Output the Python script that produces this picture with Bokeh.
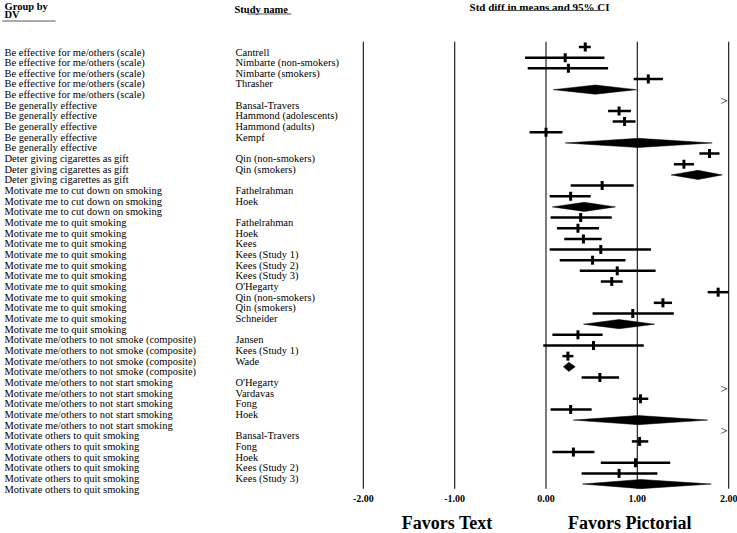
from bokeh.plotting import figure
from bokeh.models import Range1d
from bokeh.core.properties import value
from bokeh.embed import file_html
from bokeh.resources import INLINE

# ---------------- data ----------------
group_labels = (["Be effective for me/others (scale)"] * 5
                + ["Be generally effective"] * 5
                + ["Deter giving cigarettes as gift"] * 3
                + ["Motivate me to cut down on smoking"] * 3
                + ["Motivate me to quit smoking"] * 11
                + ["Motivate me/others to not smoke (composite)"] * 4
                + ["Motivate me/others to not start smoking"] * 5
                + ["Motivate others to quit smoking"] * 6)

study_names = ["Cantrell", "Nimbarte (non-smokers)", "Nimbarte (smokers)", "Thrasher", "",
               "Bansal-Travers", "Hammond (adolescents)", "Hammond (adults)", "Kempf", "",
               "Qin (non-smokers)", "Qin (smokers)", "",
               "Fathelrahman", "Hoek", "",
               "Fathelrahman", "Hoek", "Kees", "Kees (Study 1)", "Kees (Study 2)", "Kees (Study 3)",
               "O'Hegarty", "Qin (non-smokers)", "Qin (smokers)", "Schneider", "",
               "Jansen", "Kees (Study 1)", "Wade", "",
               "O'Hegarty", "Vardavas", "Fong", "Hoek", "",
               "Bansal-Travers", "Fong", "Hoek", "Kees (Study 2)", "Kees (Study 3)", ""]

est = [0.43, 0.21, 0.245, 1.12, 0.54,
       2.6, 0.80, 0.86, 0.00, 1.01,
       1.79, 1.51, 1.665,
       0.615, 0.27, 0.42,
       0.38, 0.35, 0.41, 0.60, 0.51, 0.78, 0.72, 1.885, 1.28, 0.95, 0.80,
       0.35, 0.52, 0.24, 0.25,
       0.59, 2.6, 1.035, 0.27, 1.01,
       2.6, 1.025, 0.30, 0.98, 0.80, 1.04]
lo = [0.36, -0.23, -0.20, 0.96, 0.08,
      2.3, 0.68, 0.73, -0.18, 0.21,
      1.68, 1.40, 1.37,
      0.27, 0.04, 0.07,
      0.05, 0.12, 0.20, 0.04, 0.15, 0.37, 0.60, 1.77, 1.18, 0.51, 0.41,
      0.07, -0.03, 0.18, 0.19,
      0.39, 2.3, 0.95, 0.05, 0.30,
      2.3, 0.94, 0.07, 0.60, 0.39, 0.40]
hi = [0.49, 0.64, 0.68, 1.28, 0.99,
      2.9, 0.93, 0.98, 0.18, 1.82,
      1.90, 1.62, 1.93,
      0.96, 0.49, 0.76,
      0.72, 0.58, 0.61, 1.15, 0.87, 1.20, 0.84, 2.00, 1.38, 1.40, 1.19,
      0.62, 1.07, 0.30, 0.32,
      0.80, 2.9, 1.12, 0.50, 1.77,
      2.9, 1.12, 0.53, 1.36, 1.22, 1.81]

tick_vals = [-2, -1, 0, 1, 2]
tick_labels = ["-2.00", "-1.00", "0.00", "1.00", "2.00"]

# ---------------- layout helpers (frame px -> data) ----------------
W, H = 737, 533
ZERO_PX, UNIT_PX = 545.5, 91.33
ROW0_PX, ROW_PX = 46.5, 10.66


def dx(px):
    return (px - ZERO_PX) / UNIT_PX


def dy(py):
    return (py - ROW0_PX) / ROW_PX


FONT = value("Liberation Serif")
n = len(study_names)
rows = list(range(n))
XMAX = max(tick_vals)

p = figure(width=W, height=H, x_range=Range1d(dx(0), dx(W)),
           y_range=Range1d(dy(H), dy(0)),
           output_backend="svg", toolbar_location=None, min_border=0,
           x_axis_location=None, y_axis_location=None, title=None)
p.outline_line_color = None
p.grid.visible = False
p.background_fill_color = "white"
p.border_fill_color = "white"

# reference vertical lines
p.multi_line(xs=[[t, t] for t in tick_vals], ys=[[-0.5, n - 0.56] for t in tick_vals],
             line_color="#222222", line_width=1.2)

# tick labels
p.text(x=tick_vals, y=[n + 0.4] * len(tick_vals), text=tick_labels, text_font=FONT,
       text_font_style="bold", text_font_size="10px", text_align="center",
       text_baseline="middle", text_color="black")

# studies
s_rows = [r for r in rows if study_names[r] and lo[r] <= XMAX]
p.segment(x0=[lo[r] for r in s_rows], x1=[hi[r] for r in s_rows],
          y0=s_rows, y1=s_rows, line_color="black", line_width=2.5, line_cap="butt")
p.rect(x=[est[r] for r in s_rows], y=s_rows, width=3, height=9,
       width_units="screen", height_units="screen", fill_color="black", line_color=None)

# off-scale studies
o_rows = [r for r in rows if study_names[r] and lo[r] > XMAX]
p.text(x=[XMAX] * len(o_rows), y=o_rows, text=[">"] * len(o_rows), text_font=FONT,
       text_font_size="13px", text_align="right", text_baseline="middle",
       x_offset=-1, text_color="black")

# summary diamonds
d_rows = [r for r in rows if not study_names[r]]
hh = 0.43
p.patches(xs=[[lo[r], est[r], hi[r], est[r]] for r in d_rows],
          ys=[[r, r - hh, r, r + hh] for r in d_rows],
          fill_color="black", line_color="black", line_width=0.5)

# row labels
p.text(x=[dx(4)] * n, y=[r + 0.47 for r in rows], text=group_labels, text_font=FONT,
       text_font_size="10.5px", text_align="left", text_baseline="middle", text_color="black")
p.text(x=[dx(235)] * n, y=[r + 0.47 for r in rows], text=study_names, text_font=FONT,
       text_font_size="10.5px", text_align="left", text_baseline="middle", text_color="black")

# headers
p.text(x=[dx(4), dx(4), dx(234)], y=[dy(5.5), dy(14), dy(9)],
       text=["Group by", "DV", "Study name"], text_font=FONT, text_font_style="bold",
       text_font_size="10.5px", text_align="left", text_baseline="middle", text_color="black")
p.text(x=[dx(539)], y=[dy(6)], text=["Std diff in means and 95% CI"], text_font=FONT,
       text_font_style="bold", text_font_size="11px", text_align="center",
       text_baseline="middle", text_color="black")
p.segment(x0=[dx(2), dx(247), dx(492)], x1=[dx(55), dx(291), dx(603)],
          y0=[dy(20.5), dy(13.5), dy(10)], y1=[dy(20.5), dy(13.5), dy(10)],
          line_color="#555555", line_width=1)

# favors labels
p.text(x=[dx(446.7), dx(629.3)], y=[dy(522), dy(522)], text=["Favors Text", "Favors Pictorial"],
       text_font=FONT, text_font_style="bold", text_font_size="18px", text_align="center",
       text_baseline="middle", text_color="black")

open("out.html", "w").write(file_html(p, INLINE))
